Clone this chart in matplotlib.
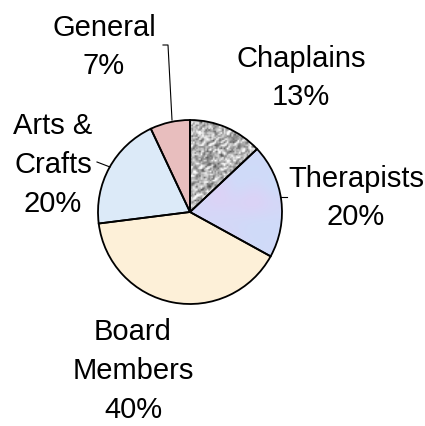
import matplotlib
matplotlib.use("Agg")
import matplotlib.pyplot as plt
import numpy as np

categories = ["Chaplains", "Therapists", "Board\nMembers", "Arts &\nCrafts", "General"]
shares = [13, 20, 40, 20, 7]
colors = ['#a8a8a8', '#d8d8f4', '#fdf0d8', '#dceaf8', '#e8bebe']

W, H = 425, 426
def Y(y):
    return H - y

fig = plt.figure(figsize=(4.25, 4.26), dpi=100)
ax = fig.add_axes([0, 0, 1, 1])

cx, cy, r = 190, Y(212), 92
wedges, _ = ax.pie(shares, colors=colors, startangle=90, counterclock=False,
                   center=(cx, cy), radius=r,
                   wedgeprops=dict(edgecolor='none', linewidth=0))

# texture fills (granite grey and soft lavender/blue)
rng = np.random.RandomState(3)
ext = [cx - r, cx + r, cy - r, cy + r]
n = rng.rand(120, 120)
n = (n + np.roll(n, 1, 0) + np.roll(n, 1, 1)) / 3
g = np.clip(0.2 + 1.0 * n, 0, 1)
granite = np.dstack([g, g, g])
im = ax.imshow(granite, extent=ext, interpolation='bilinear', zorder=2)
im.set_clip_path(wedges[0])

t = rng.rand(10, 10)[..., None]
lav = np.array([0.90, 0.80, 0.96])
blu = np.array([0.78, 0.88, 0.98])
soft = t * lav + (1 - t) * blu
im2 = ax.imshow(soft, extent=ext, interpolation='bicubic', zorder=2)
im2.set_clip_path(wedges[1])

# outlines on top
ax.pie(shares, colors=['none'] * len(shares), startangle=90, counterclock=False,
       center=(cx, cy), radius=r,
       wedgeprops=dict(edgecolor='black', linewidth=1.3, fill=False, zorder=3))

label_pos = [(301, 78), (356, 198), (133, 371), (53, 165), (104, 47)]
for name, v, (x, y) in zip(categories, shares, label_pos):
    ax.text(x, Y(y), f"{name}\n{v}%", ha='center', va='center', fontsize=21,
            family='Liberation Sans', linespacing=1.48)

# leader lines
ax.plot([163, 168, 172], [Y(45), Y(45), Y(120)], color='black', lw=0.8)
ax.plot([97, 110], [Y(162), Y(167)], color='black', lw=0.8)
ax.plot([280, 287], [Y(197), Y(197)], color='black', lw=0.8)

ax.set_xlim(0, W)
ax.set_ylim(0, H)
ax.set_aspect('auto')
ax.axis('off')

fig.savefig("out.png", dpi=100)
